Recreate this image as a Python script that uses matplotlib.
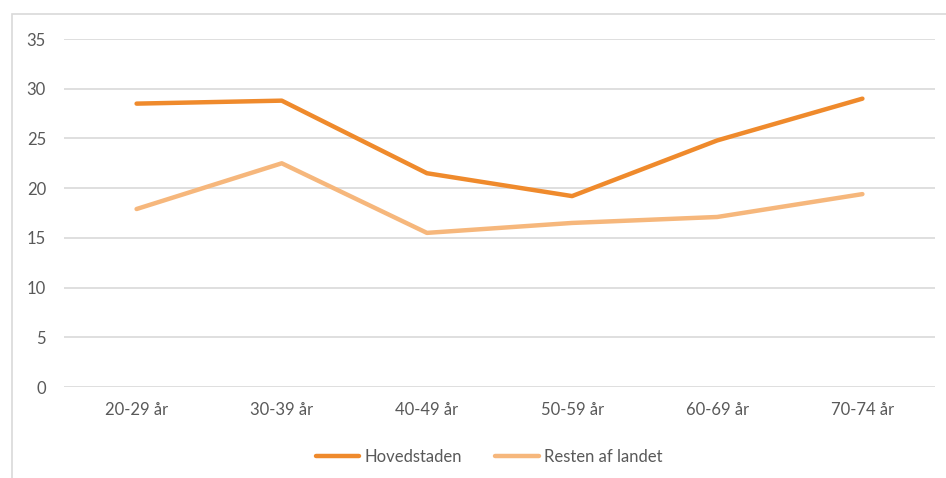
import numpy as np
import matplotlib.pyplot as plt
from matplotlib.patches import Rectangle

plt.rcParams['font.family'] = ['Lato', 'DejaVu Sans']

# data
categories = ['20-29 år', '30-39 år', '40-49 år', '50-59 år', '60-69 år', '70-74 år']
hovedstaden = [28.5, 28.8, 21.5, 19.2, 24.8, 29.0]
resten = [17.9, 22.5, 15.5, 16.5, 17.1, 19.4]
yticks = [0, 5, 10, 15, 20, 25, 30, 35]

dark = '#EF8A2C'
light = '#F6B77C'
txt = '#595959'
grid = '#D9D9D9'

fig = plt.figure(figsize=(9.46, 4.78), dpi=100)
ax = fig.add_axes([64 / 946, 1 - 387 / 478, (935 - 64) / 946, (387 - 39) / 478])

x = np.arange(len(categories))
ax.plot(x, hovedstaden, color=dark, lw=3.2, solid_capstyle='round', label='Hovedstaden')
ax.plot(x, resten, color=light, lw=3.2, solid_capstyle='round', label='Resten af landet')

ax.set_xlim(-0.5, len(categories) - 0.5)
ax.set_ylim(0, 35)
ax.set_yticks(yticks)
ax.set_xticks(x)
ax.set_xticklabels(categories)
ax.yaxis.grid(True, color=grid, lw=1.2)
ax.set_axisbelow(True)
for s in ax.spines.values():
    s.set_visible(False)
ax.tick_params(axis='both', length=0, colors=txt, labelsize=12)
ax.tick_params(axis='y', pad=13)
ax.tick_params(axis='x', pad=11)

# outer chart border (partly cropped in the reference)
fig.patches.append(Rectangle((12 / 946, -0.1), 2.0, 1 - 14 / 478 + 0.1,
                             transform=fig.transFigure, fill=False,
                             edgecolor=grid, lw=1.2))

fig.legend(loc='center', bbox_to_anchor=(489 / 946, 1 - 457 / 478), ncol=2,
           frameon=False, fontsize=12, labelcolor=txt, handlelength=2.6,
           handletextpad=0.3, columnspacing=2.0)

fig.savefig('out.png', dpi=100)
